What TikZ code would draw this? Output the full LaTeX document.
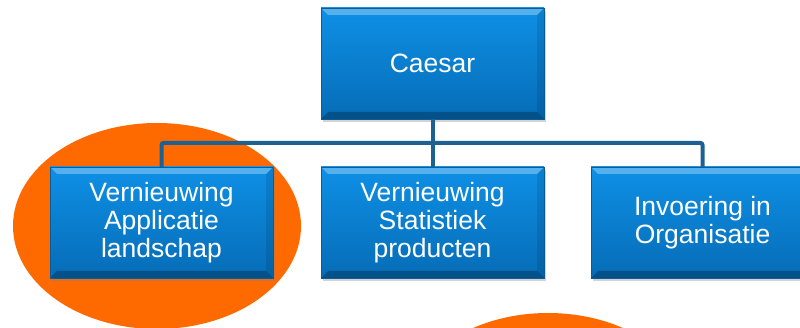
\documentclass[tikz,border=0pt]{standalone}
\usepackage{fontspec}
\setmainfont{Liberation Sans}
\usepackage{xcolor}
\usetikzlibrary{shapes,arrows,positioning,calc,shadows}

\definecolor{boxtop}{HTML}{0E90E6}
\definecolor{boxbot}{HTML}{066CB6}
\definecolor{boxedge}{HTML}{0B5C98}
\definecolor{linkblue}{HTML}{1D6193}
\definecolor{accent}{HTML}{FF6A00}

\begin{document}
\begin{tikzpicture}[x=1pt, y=-1pt]
  \tikzstyle{unit}=[rectangle, draw=boxedge, thin, top color=boxtop, bottom color=boxbot, minimum width=223pt, minimum height=111pt, inner sep=0pt, text=white, align=center, font=\fontsize{26.5}{28}\selectfont, drop shadow={shadow xshift=2pt, shadow yshift=-3pt, opacity=0.35},
    path picture={
      \fill[white, opacity=0.3] (path picture bounding box.north west) -- (path picture bounding box.north east) -- ([xshift=-7pt,yshift=-7pt]path picture bounding box.north east) -- ([xshift=7pt,yshift=-7pt]path picture bounding box.north west) -- cycle;
      \fill[black, opacity=0.25] (path picture bounding box.south west) -- (path picture bounding box.south east) -- ([xshift=-7pt,yshift=7pt]path picture bounding box.south east) -- ([xshift=7pt,yshift=7pt]path picture bounding box.south west) -- cycle;
      \fill[black, opacity=0.1] (path picture bounding box.north east) -- (path picture bounding box.south east) -- ([xshift=-7pt,yshift=7pt]path picture bounding box.south east) -- ([xshift=-7pt,yshift=-7pt]path picture bounding box.north east) -- cycle;
    }]
  \tikzstyle{link}=[draw=linkblue, line width=4pt, rounded corners=2pt]

  \useasboundingbox (0,0) rectangle (800,328);
  \clip (0,0) rectangle (800,328);

  % Markering
  \fill[accent] (157,226) ellipse [x radius=144pt, y radius=103pt];
  \fill[accent] (548,416) ellipse [x radius=144pt, y radius=103pt];

  % Top
  \node[unit] (caesar) at (432.5,63.5) {Caesar};

  % Projecten
  \node[unit] (app) at (161.5,222.5) {Vernieuwing\\Applicatie\\landschap};
  \node[unit] (stat) at (432.5,222.5) {Vernieuwing\\Statistiek\\producten};
  \node[unit] (org) at (702.5,222.5) {Invoering in\\Organisatie};

  % Verbindingen
  \coordinate (hub) at (432.5,143);
  \draw[link] (caesar.south) -- (stat.north);
  \draw[link] (hub) -| (app.north);
  \draw[link] (hub) -| (org.north);
\end{tikzpicture}
\end{document}
